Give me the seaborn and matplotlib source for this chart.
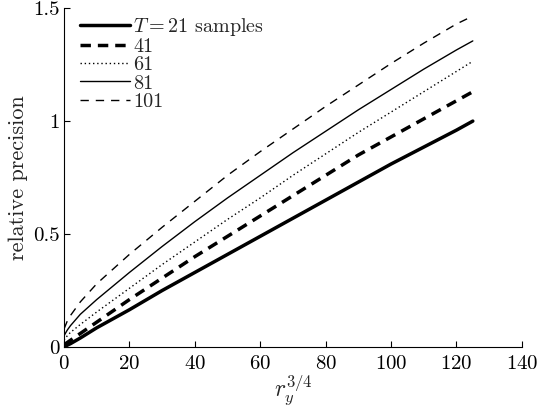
import numpy as np
import pandas as pd
import matplotlib
matplotlib.use("Agg")
import matplotlib.pyplot as plt
import seaborn as sns

# values
x = [0, 1, 2, 5, 10, 20, 30, 40, 50, 60, 70, 80, 90, 100, 110, 120, 125]
t21 = [0.0, 0.008, 0.015, 0.04, 0.085, 0.165, 0.25, 0.33, 0.41, 0.49, 0.57, 0.65, 0.73, 0.81, 0.885, 0.96, 1.0]
t41 = [0.01, 0.02, 0.03, 0.06, 0.11, 0.21, 0.305, 0.40, 0.49, 0.58, 0.67, 0.76, 0.85, 0.93, 1.01, 1.09, 1.13]
t61 = [0.03, 0.05, 0.065, 0.10, 0.155, 0.26, 0.365, 0.465, 0.565, 0.66, 0.76, 0.855, 0.95, 1.04, 1.13, 1.22, 1.265]
t81 = [0.05, 0.075, 0.095, 0.145, 0.21, 0.33, 0.445, 0.555, 0.66, 0.76, 0.86, 0.955, 1.05, 1.14, 1.23, 1.315, 1.355]
t101 = [0.08, 0.115, 0.14, 0.20, 0.28, 0.41, 0.53, 0.645, 0.76, 0.865, 0.965, 1.065, 1.16, 1.255, 1.345, 1.43, 1.465]

labels = [r"$T=21$ samples", "41", "61", "81", "101"]
series = [t21, t41, t61, t81, t101]
styles = [("-", 2.5), ((0, (3, 2)), 2.5), ((0, (1, 2)), 1.0), ("-", 1.0), ((0, (6, 5)), 1.0)]

sns.set_style("ticks")
plt.rcParams["font.family"] = ["cmr10"]
plt.rcParams["mathtext.fontset"] = "cm"
plt.rcParams["axes.formatter.use_mathtext"] = True
plt.rcParams["xtick.direction"] = "in"
plt.rcParams["ytick.direction"] = "in"

fig = plt.figure(figsize=(5.38, 4.08), dpi=100)
ax = fig.add_axes([0.119, 0.1495, 0.851, 0.8305])

for lab, ys, (ls, lw) in zip(labels, series, styles):
    df = pd.DataFrame({"x": x, "y": ys})
    sns.lineplot(data=df, x="x", y="y", ax=ax, color="black", linestyle=ls,
                 linewidth=lw, label=lab)

ax.set_xlim(0, 140)
ax.set_ylim(0, 1.5)
ax.set_xticks(range(0, 141, 20))
ax.set_yticks([0, 0.5, 1, 1.5])
ax.set_yticklabels(["0", "0.5", "1", "1.5"])
ax.tick_params(labelsize=15, length=4, width=0.8, color="black", labelcolor="black")
ax.tick_params(axis="x", pad=6)
ax.tick_params(axis="y", pad=3)
ax.set_xlabel(r"$r_y^{3/4}$", fontsize=17, labelpad=-1)
ax.set_ylabel("relative precision", fontsize=16, labelpad=4)
sns.despine(ax=ax)
for s in ["left", "bottom"]:
    ax.spines[s].set_color("black")
    ax.spines[s].set_linewidth(0.8)

ax.legend(loc="upper left", frameon=False, fontsize=14.5, handlelength=2.5,
          handletextpad=0.15, labelspacing=0.0, borderaxespad=0.0,
          bbox_to_anchor=(0.017, 1.0))

fig.savefig("out.png", dpi=100)
